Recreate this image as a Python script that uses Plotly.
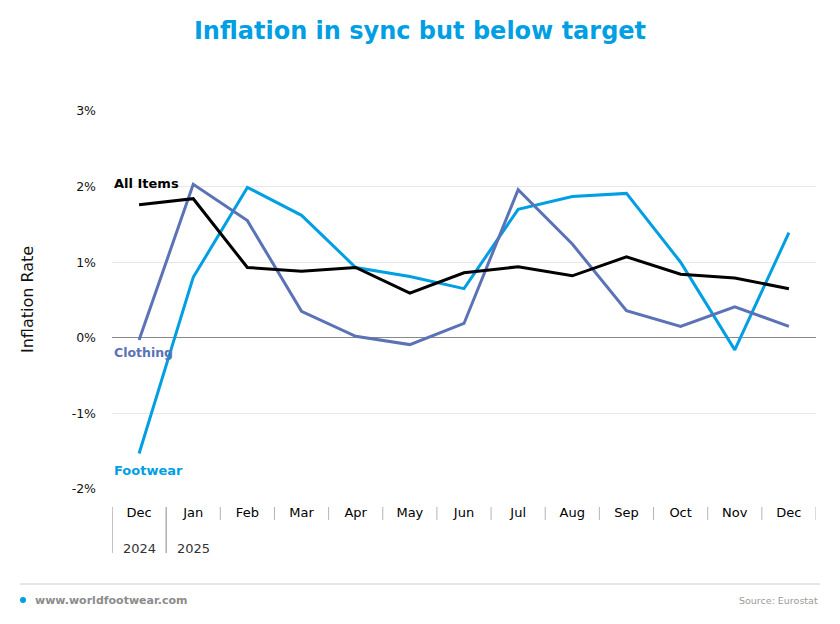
import plotly.graph_objects as go

months = ["Dec", "Jan", "Feb", "Mar", "Apr", "May", "Jun", "Jul", "Aug", "Sep", "Oct", "Nov", "Dec"]
years = ["2024", "2025"]
all_items = [1.76, 1.84, 0.93, 0.88, 0.93, 0.59, 0.86, 0.94, 0.82, 1.07, 0.84, 0.79, 0.65]
clothing = [-0.03, 2.03, 1.55, 0.35, 0.02, -0.09, 0.19, 1.96, 1.24, 0.36, 0.15, 0.41, 0.15]
footwear = [-1.53, 0.80, 1.99, 1.62, 0.93, 0.81, 0.65, 1.70, 1.87, 1.91, 1.00, -0.16, 1.39]
y_ticks = [-2, -1, 0, 1, 2, 3]
y_ticktext = ["-2%", "-1%", "0%", "1%", "2%", "3%"]

BLUE = "#009FE3"
SLATE = "#5B72B6"
BLACK = "#000000"
FONT = "DejaVu Sans"

x = list(range(len(months)))

fig = go.Figure()
fig.add_trace(go.Scatter(x=x, y=footwear, mode="lines", line=dict(color=BLUE, width=3), name="Footwear"))
fig.add_trace(go.Scatter(x=x, y=clothing, mode="lines", line=dict(color=SLATE, width=3), name="Clothing"))
fig.add_trace(go.Scatter(x=x, y=all_items, mode="lines", line=dict(color=BLACK, width=3), name="All Items"))

# page has an 8px body margin, so the figure is drawn 8px smaller and placed at (8, 8)
OFF = 8
W, H = 840 - 2 * OFF, 624 - 2 * OFF
L = 112 - OFF
R = W - (816 - OFF)
T = 111 - OFF
B = H - (489 - OFF)
plot_w = W - L - R
plot_h = H - T - B

def py(page_y):
    return (H - B - (page_y - OFF)) / plot_h

def px(page_x):
    return (page_x - OFF - L) / plot_w

shapes = []
for i in range(len(months) + 1):
    long = i in (0, 1)
    shapes.append(dict(type="line", xref="x", yref="paper",
                       x0=i - 0.5, x1=i - 0.5, y0=py(507), y1=py(553 if long else 520),
                       line=dict(color="#8a8a8a" if long else "#b5b5b5", width=1)))
shapes.append(dict(type="line", xref="paper", yref="paper",
                   x0=px(20), x1=px(820), y0=py(584), y1=py(584),
                   line=dict(color="#cccccc", width=1)))
shapes.append(dict(type="circle", xref="paper", yref="paper",
                   x0=px(20), x1=px(26), y0=py(603), y1=py(597),
                   fillcolor=BLUE, line=dict(width=0)))

annotations = [
    dict(text="<b>All Items</b>", x=0, xref="paper", y=2.04, yref="y", xanchor="left", yanchor="middle",
         showarrow=False, font=dict(family=FONT, size=13, color=BLACK)),
    dict(text="<b>Clothing</b>", x=0, xref="paper", y=-0.2, yref="y", xanchor="left", yanchor="middle",
         showarrow=False, font=dict(family=FONT, size=12.5, color=SLATE)),
    dict(text="<b>Footwear</b>", x=0, xref="paper", y=-1.76, yref="y", xanchor="left", yanchor="middle",
         showarrow=False, font=dict(family=FONT, size=13, color=BLUE)),
    dict(text=years[0], x=0, xref="x", y=py(548), yref="paper", xanchor="center", yanchor="middle",
         showarrow=False, font=dict(family=FONT, size=13, color="#333333")),
    dict(text=years[1], x=1, xref="x", y=py(548), yref="paper", xanchor="center", yanchor="middle",
         showarrow=False, font=dict(family=FONT, size=13, color="#333333")),
    dict(text="Inflation Rate", x=px(27), xref="paper", y=0.5, yref="paper", textangle=-90,
         xanchor="center", yanchor="middle", showarrow=False,
         font=dict(family=FONT, size=16, color="#111111")),
    dict(text="<b>www.worldfootwear.com</b>", x=px(33), xref="paper", y=py(600), yref="paper",
         xanchor="left", yanchor="middle", showarrow=False, font=dict(family=FONT, size=11, color="#8c8c8c")),
    dict(text="Source: Eurostat", x=px(820), xref="paper", y=py(600), yref="paper",
         xanchor="right", yanchor="middle", showarrow=False, font=dict(family=FONT, size=9.5, color="#9a9a9a")),
]

fig.update_layout(
    width=W, height=H,
    margin=dict(l=L, r=R, t=T, b=B),
    paper_bgcolor="white", plot_bgcolor="white",
    showlegend=False,
    title=dict(text="<b>Inflation in sync but below target</b>", x=0.5, xref="container", xanchor="center",
               y=1 - (31 - OFF) / H, yref="container", yanchor="middle",
               font=dict(family=FONT, size=24, color=BLUE)),
    font=dict(family=FONT, color="#222222"),
    shapes=shapes,
    annotations=annotations,
)

fig.update_xaxes(
    range=[-0.5, len(months) - 0.5],
    tickmode="array", tickvals=x, ticktext=months,
    showgrid=False, zeroline=False, showline=False, ticks="",
    ticklabelstandoff=14,
    tickfont=dict(family=FONT, size=13, color="#000000"),
    fixedrange=True,
)
fig.update_yaxes(
    range=[-2, 3],
    tickmode="array", tickvals=y_ticks, ticktext=y_ticktext,
    showgrid=True, gridcolor="#e8e8e8", gridwidth=1,
    zeroline=True, zerolinecolor="#888888", zerolinewidth=1,
    showline=False, ticks="",
    ticklabelstandoff=15,
    tickfont=dict(family=FONT, size=12.5, color="#111111"),
    fixedrange=True,
)

fig.write_html("out.html")
